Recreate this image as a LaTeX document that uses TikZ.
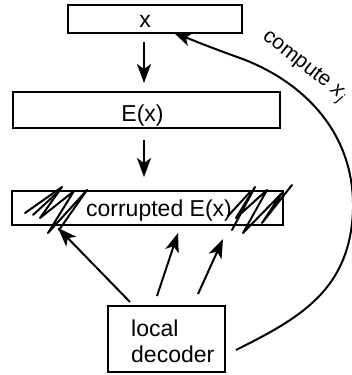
\documentclass[tikz,border=0pt]{standalone}
\usepackage{fontspec}
\setmainfont{Liberation Sans}
\usetikzlibrary{arrows.meta}
\begin{document}
\begin{tikzpicture}[x=1pt,y=-1pt,
  box/.style={draw,line width=2.4pt,inner sep=0pt},
  lbl/.style={font=\fontsize{23}{24}\selectfont,inner sep=0pt,anchor=base},
  arr/.style={line width=2pt,-{Stealth[length=19pt,width=14pt,inset=5pt]}},
  hatch/.style={line width=2pt,line join=round,line cap=round}]
\useasboundingbox (0,0) rectangle (352,375);
% boxes
\node[box,minimum width=174pt,minimum height=28pt] (xb) at (155,19) {};
\node[box,minimum width=267pt,minimum height=36pt] (eb) at (146.5,110) {};
\node[box,minimum width=271pt,minimum height=34pt] (cb) at (147.5,208) {};
\node[box,minimum width=117pt,minimum height=66pt] (db) at (166.5,339) {};
% texts
\node[lbl] (xt) at (145,27) {x};
\node[lbl] (et) at (142.5,121) {E(x)};
\node[lbl] (ct) at (159,216) {corrupted E(x)};
\node[lbl,anchor=base west] (dt1) at (131,336) {local};
\node[lbl,anchor=base west] (dt2) at (131,362) {decoder};
% vertical arrows
\coordinate (a1) at (144,42); \coordinate (a2) at (144,83);
\coordinate (b1) at (144,140); \coordinate (b2) at (144,177);
\draw[arr] (a1) -- (a2);
\draw[arr] (b1) -- (b2);
% decoder queries
\coordinate (q1s) at (130,302); \coordinate (q1e) at (58,228);
\coordinate (q2s) at (157,296); \coordinate (q2e) at (178,233);
\coordinate (q3s) at (198,294); \coordinate (q3e) at (223,239);
\draw[arr] (q1s) -- (q1e);
\draw[arr] (q2s) -- (q2e);
\draw[arr] (q3s) -- (q3e);
% hatching (corruptions)
\draw[hatch] (25,213) -- (62,187) -- (40,218) -- (74,191) -- (48,233) -- (87,190);
\draw[hatch] (59,230) -- (87,190);
\draw[hatch] (33,215) -- (58,192);
\draw[hatch] (232,230) -- (255,187) -- (236,218) -- (267,190) -- (243,233) -- (282,193) -- (262,223) -- (292,185);
\draw[hatch] (228,216) -- (250,192);
% compute x_j curve
\coordinate (cs) at (236,350);
\coordinate (cm1) at (353,210);
\coordinate (cm2) at (240,58);
\coordinate (ce) at (173,32);
\draw[line width=2pt,-{Stealth[length=19pt,width=14pt,inset=5pt]}]
  (cs) .. controls (300,318) and (350,290) .. (cm1)
       .. controls (355,130) and (300,80) .. (cm2)
       .. controls (212,48) and (192,40) .. (ce);
\node[font=\fontsize{21}{24}\selectfont,rotate=-38,inner sep=0pt] (cl) at (304,67) {compute \textit{x}\textsubscript{\textit{j}}};
\end{tikzpicture}
\end{document}
